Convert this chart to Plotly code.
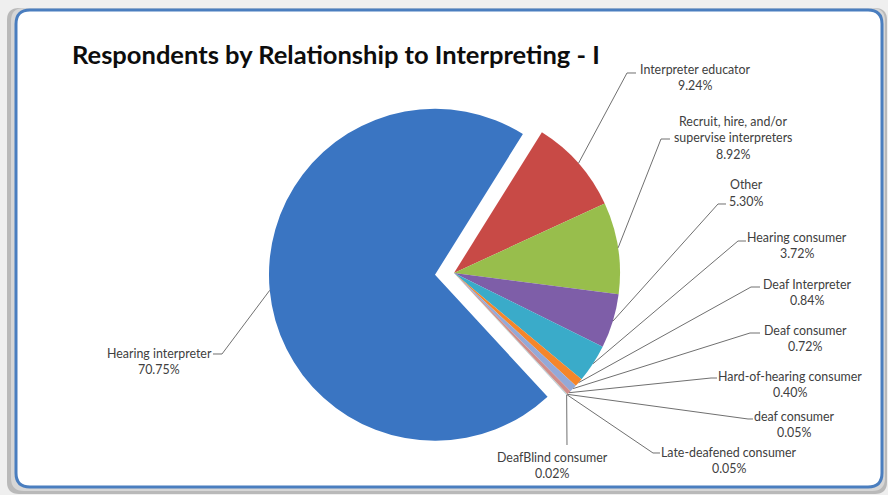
import math
import plotly.graph_objects as go

# ---- data -------------------------------------------------------------
categories = [
    "Hearing interpreter",
    "Interpreter educator",
    "Recruit, hire, and/or supervise interpreters",
    "Other",
    "Hearing consumer",
    "Deaf Interpreter",
    "Deaf consumer",
    "Hard-of-hearing consumer",
    "deaf consumer",
    "Late-deafened consumer",
    "DeafBlind consumer",
]
shares = [70.75, 9.24, 8.92, 5.30, 3.72, 0.84, 0.72, 0.40, 0.05, 0.05, 0.02]

# how each category name is broken onto lines in its label
label_lines = {
    "Recruit, hire, and/or supervise interpreters": ["Recruit, hire, and/or", "supervise interpreters"],
}

# ---- style / layout ---------------------------------------------------
W, H = 888, 495
colors = ["#3A75C2", "#C84A46", "#98BE4C", "#7E5EA8", "#3AABC9", "#F5862A",
          "#93A9D8", "#D08D8B", "#C4D89A", "#B3A2C7", "#93CDDD"]
pulls = [0.115, 0, 0, 0, 0, 0, 0, 0, 0, 0, 0]
rotation = 137.3            # start of the first slice, degrees clockwise from 12 o'clock
cx, cy, rad = 454, 273, 166  # pie centre and radius in pixels

# label placement: (centre x, first-line y, tick inner x, tick inner y, tick length)
label_pos = [
    (159, 353, 213, 354, -9),
    (695, 69, 636, 73, 9),
    (733, 121, 670, 139, 9),
    (746, 185, 726, 204, 8),
    (797, 237, 746, 241, 8),
    (807, 284, 760, 287, 9),
    (805, 330, 760, 333, 10),
    (790, 376, 717, 378, 6),
    (794, 416, 753, 419, 5),
    (729, 452, 660, 453, 7),
    (552, 457, 567, 445, 0),
]
line_step = 16.8
font_family = "Lato"
text_color = "#404040"


def px(x):
    return x / W


def py(y):
    return 1 - y / H


max_pull = max(pulls)
box = 2 * rad * (1 + max_pull)
dom_x = [px(cx - box / 2), px(cx + box / 2)]
dom_y = [py(cy + box / 2), py(cy - box / 2)]

fig = go.Figure()
fig.add_trace(go.Pie(
    labels=categories,
    values=shares,
    sort=False,
    direction="clockwise",
    rotation=rotation,
    pull=pulls,
    marker=dict(colors=colors, line=dict(width=0)),
    textinfo="none",
    hoverinfo="label+percent",
    domain=dict(x=dom_x, y=dom_y),
    showlegend=False,
))


def rrect_path(x0, y0, x1, y1, r):
    pts = [
        ("M", [(x0 + r, y0)]),
        ("L", [(x1 - r, y0)]),
        ("Q", [(x1, y0), (x1, y0 + r)]),
        ("L", [(x1, y1 - r)]),
        ("Q", [(x1, y1), (x1 - r, y1)]),
        ("L", [(x0 + r, y1)]),
        ("Q", [(x0, y1), (x0, y1 - r)]),
        ("L", [(x0, y0 + r)]),
        ("Q", [(x0, y0), (x0 + r, y0)]),
    ]
    s = ""
    for cmd, ps in pts:
        s += cmd + " " + " ".join(f"{px(a):.5f},{py(b):.5f}" for a, b in ps) + " "
    return s + "Z"


shapes = [
    # outer bevel / shadow of the chart frame
    dict(type="path", xref="paper", yref="paper", layer="below",
         path=rrect_path(7, 8, 887, 494, 12),
         fillcolor="#b9b9b9", line=dict(width=0)),
    dict(type="path", xref="paper", yref="paper", layer="below",
         path=rrect_path(11, 8, 885, 491, 13),
         fillcolor="#d6d6d6", line=dict(width=0)),
    # chart frame
    dict(type="path", xref="paper", yref="paper", layer="below",
         path=rrect_path(16, 10, 882, 487, 14),
         fillcolor="white", line=dict(color="#4A7EBF", width=3)),
]

annotations = [
    dict(text="<b>Respondents by Relationship to Interpreting - I</b>",
         x=px(70), y=py(54), xref="paper", yref="paper",
         xanchor="left", yanchor="middle", showarrow=False,
         font=dict(family=font_family, size=25.5, color="#0d0d0d")),
]

# leader lines and labels, attached to each slice at its mid-angle
total = sum(shares)
angle = rotation
for i, (name, v) in enumerate(zip(categories, shares)):
    sweep = 360.0 * v / total
    mid = math.radians(angle + sweep / 2)
    angle += sweep
    ox = cx + pulls[i] * rad * math.sin(mid)
    oy = cy - pulls[i] * rad * math.cos(mid)
    ex = ox + rad * math.sin(mid)
    ey = oy - rad * math.cos(mid)

    lx, ly, tx, ty, tl = label_pos[i]
    outer_x = tx - tl
    shapes.append(dict(
        type="path", xref="paper", yref="paper", layer="above",
        path=f"M {px(ex):.5f},{py(ey):.5f} L {px(outer_x):.5f},{py(ty):.5f} "
             f"L {px(tx):.5f},{py(ty):.5f}",
        line=dict(color="#707070", width=1)))

    lines = label_lines.get(name, [name]) + [f"{v:.2f}%"]
    for k, t in enumerate(lines):
        annotations.append(dict(
            text=t, x=px(lx), y=py(ly + k * line_step),
            xref="paper", yref="paper", xanchor="center", yanchor="middle",
            showarrow=False, font=dict(family=font_family, size=12.4, color=text_color)))

fig.update_layout(
    width=W, height=H,
    margin=dict(l=0, r=0, t=0, b=0),
    paper_bgcolor="#efefef",
    plot_bgcolor="white",
    shapes=shapes,
    annotations=annotations,
)

fig.write_html("out.html")
